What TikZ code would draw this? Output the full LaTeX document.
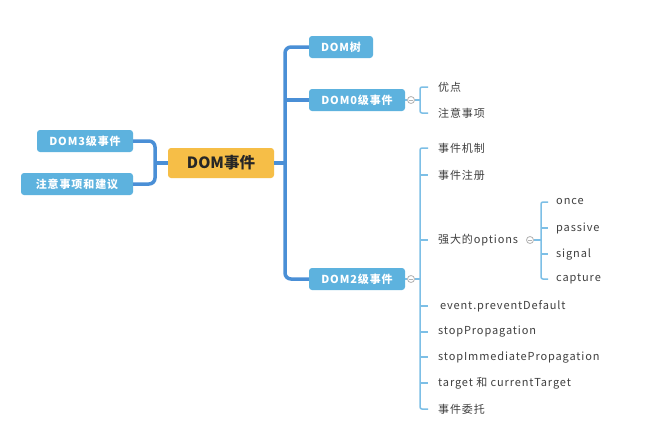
\documentclass[tikz,border=0pt]{standalone}
\usepackage{fontspec}
\setmainfont{Noto Sans CJK SC}
\newfontfamily\spacedfont[LetterSpace=8]{Noto Sans CJK SC}
\usetikzlibrary{positioning}

\definecolor{boxblue}{HTML}{5DB2DE}
\definecolor{trunkblue}{HTML}{4A8FD6}
\definecolor{twigblue}{HTML}{7DBFE6}
\definecolor{rootorange}{HTML}{F6BE47}
\definecolor{leafgray}{HTML}{404040}

\begin{document}
\begin{tikzpicture}[x=1pt,y=-1pt,
  main node/.style={rectangle,rounded corners=3pt,fill=boxblue,text=white,
    font=\spacedfont\bfseries\fontsize{11}{12}\selectfont,minimum height=22pt,inner xsep=0pt},
  root node/.style={rectangle,rounded corners=3pt,fill=rootorange,text=black!85,
    font=\bfseries\fontsize{15.5}{18}\selectfont,minimum width=106pt,minimum height=30pt},
  leaf node/.style={anchor=west,inner xsep=2pt,inner ysep=1pt,text=leafgray,
    font=\spacedfont\fontsize{11}{12}\selectfont},
  fold/.style={circle,draw=gray!60,fill=white,inner sep=0pt,minimum size=7pt,line width=0.8pt,
    path picture={\draw[gray!60,line width=0.8pt] ([xshift=-2pt]path picture bounding box.center)
      -- ([xshift=2pt]path picture bounding box.center);}},
  trunk/.style={draw=trunkblue,line width=3.5pt,rounded corners=6pt},
  twig/.style={draw=twigblue,line width=1.5pt,rounded corners=2pt}]

  \fill[white] (0,0) rectangle (655,437);
  \useasboundingbox (0,0) rectangle (655,437);

  % centre and first level
  \node[root node] (root) at (221,163) {DOM事件};
  \node[main node, minimum width=96pt] (dom3) at (85,141) {DOM3级事件};
  \node[main node, minimum width=112pt] (advice) at (77,184) {注意事项和建议};
  \node[main node, minimum width=64pt] (domtree) at (341,47) {DOM树};
  \node[main node, minimum width=96pt] (dom0) at (357,100) {DOM0级事件};
  \node[main node, minimum width=96pt] (dom2) at (357,279) {DOM2级事件};

  \coordinate (lt) at (155,163);
  \coordinate (rt) at (285,163);

  \draw[trunk] (dom3.east) -| (lt) |- (advice.east);
  \draw[trunk] (lt) -- (root.west);
  \draw[trunk] (domtree.west) -| (rt) |- (dom2.west);
  \draw[trunk] (root.east) -- (rt);
  \draw[trunk] (dom0.west -| rt) -- (dom0.west);

  % DOM0 children
  \node[fold] (f0) at (411,100) {};
  \coordinate (b0) at (420,100);
  \node[leaf node] (merit) at (436,87) {优点};
  \node[leaf node] (notice) at (436,113) {注意事项};
  \draw[twig] (dom0.east) -- (f0.west);
  \draw[twig] (f0.east) -- (b0);
  \draw[twig] ([xshift=-8pt]merit.west) -| (b0) |- ([xshift=-8pt]notice.west);

  % DOM2 children
  \node[fold] (f2) at (411,279) {};
  \coordinate (b2) at (420,279);
  \node[leaf node] (mech) at (436,148) {事件机制};
  \node[leaf node] (reg) at (436,175) {事件注册};
  \node[leaf node] (opts) at (436,240) {强大的options};
  \node[leaf node] (prevent) at (436,306) {\,event.preventDefault};
  \node[leaf node] (stopprop) at (436,332) {stopPropagation};
  \node[leaf node] (stopimm) at (436,357) {stopImmediatePropagation};
  \node[leaf node] (target) at (436,383) {target 和 currentTarget};
  \node[leaf node] (deleg) at (436,409) {事件委托};
  \draw[twig] (dom2.east) -- (f2.west);
  \draw[twig] (f2.east) -- (b2);
  \draw[twig] ([xshift=-8pt]mech.west) -| (b2) |- ([xshift=-8pt]deleg.west);
  \foreach \n in {reg,opts,prevent,stopprop,stopimm,target}
    \draw[twig] (\n.west -| b2) -- ([xshift=-8pt]\n.west);

  % options children
  \node[fold] (fo) at (530,240) {};
  \coordinate (bo) at (541,240);
  \node[leaf node] (once) at (554,202) {once};
  \node[leaf node] (passive) at (554,228) {passive};
  \node[leaf node] (signal) at (554,254) {signal};
  \node[leaf node] (capture) at (554,279) {capture};
  \draw[twig] (fo.east) -- (bo);
  \draw[twig] ([xshift=-6pt]once.west) -| (bo) |- ([xshift=-6pt]capture.west);
  \foreach \n in {passive,signal}
    \draw[twig] (\n.west -| bo) -- ([xshift=-6pt]\n.west);
\end{tikzpicture}
\end{document}
